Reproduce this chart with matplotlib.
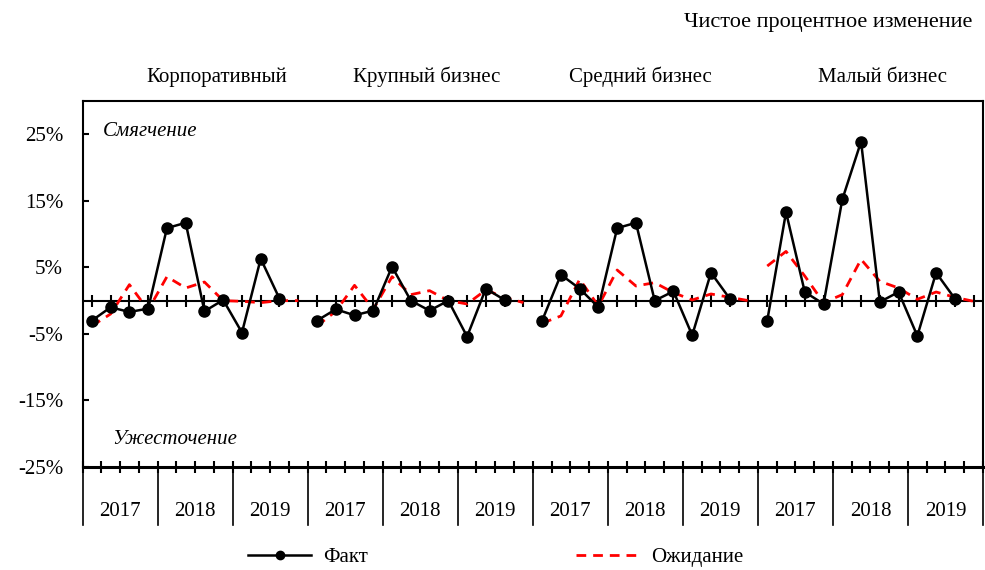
import matplotlib
matplotlib.use("Agg")
import matplotlib.pyplot as plt
import matplotlib.transforms as mtransforms
from matplotlib.lines import Line2D
import numpy as np

plt.rcParams['font.family'] = ['Liberation Serif', 'DejaVu Serif']

groups = ["Корпоративный", "Крупный бизнес", "Средний бизнес", "Малый бизнес"]
years = ["2017", "2018", "2019"]
quarters_per_year = 4

corp_fact = [-3.0, -1.0, -1.7, -1.2, 10.9, 11.7, -1.6, 0.1, -4.8, 6.3, 0.3]
corp_exp = [-3.8, -2.0, 2.4, -1.4, 3.6, 1.9, 2.8, 0.0, -0.1, -0.3, 0.0, 0.0]
large_fact = [-3.0, -1.3, -2.2, -1.5, 5.1, 0.0, -1.5, 0.0, -5.4, 1.8, 0.1]
large_exp = [-3.8, -1.6, 2.3, -1.3, 3.6, 0.9, 1.5, 0.0, -0.5, 1.6, 0.5, -0.3]
medium_fact = [-3.0, 3.9, 1.8, -1.0, 10.9, 11.7, 0.0, 1.4, -5.2, 4.2, 0.3]
medium_exp = [-3.4, -2.3, 3.2, -0.8, 4.6, 2.2, 2.7, 1.2, 0.1, 1.0, 0.5, 0.0]
small_fact = [-3.0, 13.3, 1.3, -0.5, 15.2, 23.9, -0.2, 1.3, -5.3, 4.2, 0.3]
small_exp = [5.2, 7.4, 3.7, -0.3, 0.9, 6.2, 2.9, 1.9, 0.2, 1.3, 0.5, -0.1]

facts = [corp_fact, large_fact, medium_fact, small_fact]
exps = [corp_exp, large_exp, medium_exp, small_exp]

yticks = [-25, -15, -5, 5, 15, 25]
ytick_labels = ["-25%", "-15%", "-5%", "5%", "15%", "25%"]

title = "Чистое процентное изменение"
label_soft = "Смягчение"
label_tight = "Ужесточение"
legend_labels = ["Факт", "Ожидание"]

W, H = 985, 570
fig = plt.figure(figsize=(W / 100, H / 100), dpi=100)
ax_l, ax_r, ax_t, ax_b = 82.5, 983, 101, 467
ax = fig.add_axes([ax_l / W, 1 - ax_b / H, (ax_r - ax_l) / W, (ax_b - ax_t) / H])

n_per_group = len(years) * quarters_per_year
n_total = n_per_group * len(groups)
FS = 15

fact_color = "black"
exp_color = "#FF0000"

for g in range(len(groups)):
    base = g * n_per_group
    xe = np.arange(len(exps[g])) + base
    ax.plot(xe, exps[g], color=exp_color, lw=2.0, dashes=(3.5, 2.5), zorder=3)
    xf = np.arange(len(facts[g])) + base
    ax.plot(xf, facts[g], color=fact_color, lw=1.8, marker='o', markersize=8, zorder=4)

# zero line with tick marks at each category
ax.axhline(0, color='black', lw=1.5, zorder=2)
ax.plot(np.arange(n_total), np.zeros(n_total), linestyle='none', marker='|',
        markersize=8, mew=1.5, color='black', zorder=2)

ax.set_xlim(-0.5, n_total - 0.5)
ax.set_ylim(-25, 30)
ax.set_yticks(yticks)
ax.set_yticklabels(ytick_labels, fontsize=FS)
ax.tick_params(axis='y', direction='in', length=4, width=1.5, pad=14)

ax.set_xticks(np.arange(n_total + 1) - 0.5)
ax.set_xticklabels([])
ax.tick_params(axis='x', direction='inout', length=8, width=1.5)

for side in ['left', 'top', 'right']:
    ax.spines[side].set_linewidth(1.5)
ax.spines['bottom'].set_linewidth(2.2)

# year separators and labels below the axis
trans = mtransforms.blended_transform_factory(ax.transData, ax.transAxes)
axh = ax_b - ax_t
sep_depth = (525 - 467) / axh
lab_y = (512 - 467) / axh
n_years = len(groups) * len(years)
for k in range(n_years + 1):
    xb = k * quarters_per_year - 0.5
    ax.add_line(Line2D([xb, xb], [0, -sep_depth], transform=trans, color='black',
                       lw=1.2, clip_on=False))
for k in range(n_years):
    xc = k * quarters_per_year + (quarters_per_year - 1) / 2
    ax.text(xc, -lab_y, years[k % len(years)], transform=trans, ha='center',
            va='center', fontsize=FS)

# group titles
group_title_x = [217, 427, 640, 882]
for gx, name in zip(group_title_x, groups):
    fig.text(gx / W, 1 - 77 / H, name, ha='center', va='center', fontsize=FS)

fig.text(972 / W, 1 - 22 / H, title, ha='right', va='center', fontsize=16)
fig.text(103 / W, 1 - 131 / H, label_soft, ha='left', va='center', fontsize=FS, style='italic')
fig.text(112 / W, 1 - 439 / H, label_tight, ha='left', va='center', fontsize=FS, style='italic')

handles = [
    Line2D([], [], color=fact_color, lw=1.8, marker='o', markersize=6),
    Line2D([], [], color=exp_color, lw=2.0, dashes=(3.5, 2.5)),
]
fig.legend(handles, legend_labels, loc='center', bbox_to_anchor=(496 / W, 1 - 557 / H),
           ncol=2, frameon=False, fontsize=FS, handlelength=3.0, handletextpad=0.6,
           columnspacing=10)

fig.savefig("out.png", dpi=100)
